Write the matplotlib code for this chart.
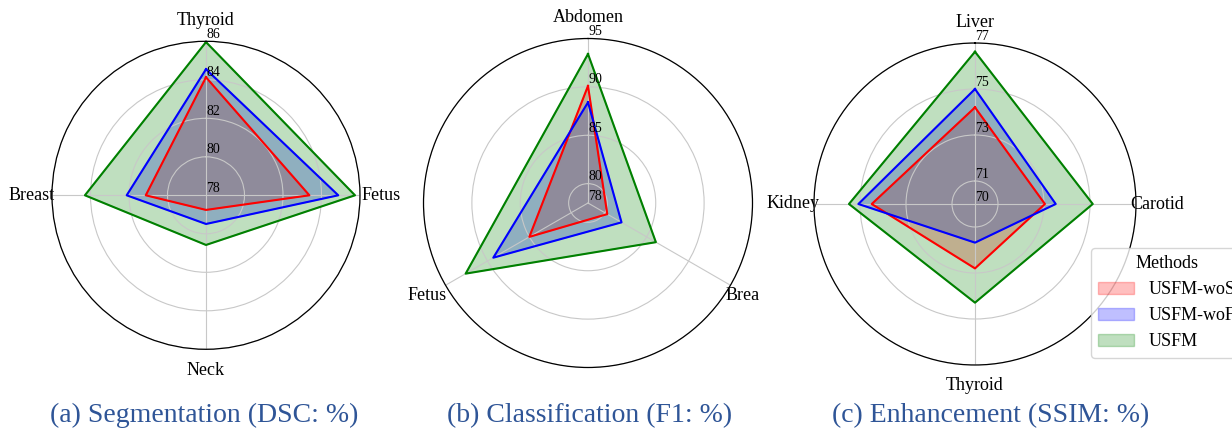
import numpy as np
import matplotlib
matplotlib.use("Agg")
import matplotlib.pyplot as plt
from matplotlib.transforms import offset_copy, Bbox, TransformedBbox

plt.rcParams['font.family'] = ['Liberation Serif', 'DejaVu Serif']

methods = ['USFM-woS', 'USFM-woF', 'USFM']
colors = ['red', 'blue', 'green']

seg_labels = ['Thyroid', 'Breast', 'Neck', 'Fetus']
seg_wos = [84.13, 81.13, 78.76, 83.37]
seg_wof = [84.55, 82.12, 79.49, 84.87]
seg_usfm = [85.96, 84.29, 80.58, 85.74]
seg_ticks = [78, 80, 82, 84, 86]

cls_labels = ['Abdomen', 'Fetus', 'Breast']
cls_wos = [90.1, 85.0, 80.3]
cls_wof = [88.4, 89.3, 82.0]
cls_usfm = [93.4, 92.6, 86.1]
cls_ticks = [78, 80, 85, 90, 95]

enh_labels = ['Liver', 'Kidney', 'Thyroid', 'Carotid']
enh_wos = [74.2, 74.49, 72.8, 73.04]
enh_wof = [75.0, 75.07, 71.68, 73.51]
enh_usfm = [76.62, 75.48, 74.29, 75.12]
enh_ticks = [70, 71, 73, 75, 77]

titles = ['(a) Segmentation (DSC: %)', '(b) Classification (F1: %)',
          '(c) Enhancement (SSIM: %)']

W, H = 1232, 430
fig = plt.figure(figsize=(W / 100, H / 100), dpi=100)


def radar(cx, cy, r, labels, series, ticks):
    ax = fig.add_axes([(cx - r) / W, (H - cy - r) / H, 2 * r / W, 2 * r / H],
                      projection='polar')
    ax.set_theta_offset(np.pi / 2)
    n = len(labels)
    ang = np.linspace(0, 2 * np.pi, n, endpoint=False)
    ang_c = np.append(ang, ang[0])
    for vals, c, m in zip(series, colors, methods):
        v = np.append(vals, vals[0])
        ax.fill(ang_c, v, color=c, alpha=0.25, label=m)
        ax.plot(ang_c, v, color=c, lw=1.5)
    ax.set_xticks(ang)
    ax.set_xticklabels(labels, fontsize=13)
    ax.tick_params(axis='x', pad=4.5)
    ax.set_ylim(ticks[0], ticks[-1])
    ax.set_yticks(ticks)
    ax.set_yticklabels([])
    ax.grid(color='#c8c8c8', lw=0.8)
    ax.spines['polar'].set_color('black')
    ax.spines['polar'].set_linewidth(0.9)
    tr = offset_copy(ax.transData, fig=fig, x=7, y=7, units='dots')
    for t in ticks:
        ax.text(0, t, str(t), transform=tr, ha='center', va='center',
                fontsize=10)
    return ax


ax1 = radar(206, 195.3, 154, seg_labels, [seg_wos, seg_wof, seg_usfm], seg_ticks)
ax2 = radar(588, 203, 164.5, cls_labels, [cls_wos, cls_wof, cls_usfm], cls_ticks)
ax3 = radar(975, 204, 161, enh_labels, [enh_wos, enh_wof, enh_usfm], enh_ticks)

# the Breast label of panel (b) is cut by panel (c)
clip = TransformedBbox(Bbox([[0, 0], [759 / W, 1]]), fig.transFigure)
for lab in ax2.get_xticklabels():
    lab.set_clip_box(clip)
    lab.set_clip_on(True)

handles, labs = ax3.get_legend_handles_labels()
ax3.legend(handles, labs, title='Methods', fontsize=13, title_fontsize=13,
           loc='upper left', bbox_to_anchor=(1091 / W, 1 - 248 / H),
           bbox_transform=fig.transFigure, borderaxespad=0)

for x, t in zip([204, 590, 991], titles):
    fig.text(x / W, 8 / H, t, ha='center', va='baseline', fontsize=20,
             color='#2F5597')

fig.savefig('out.png', dpi=100)
